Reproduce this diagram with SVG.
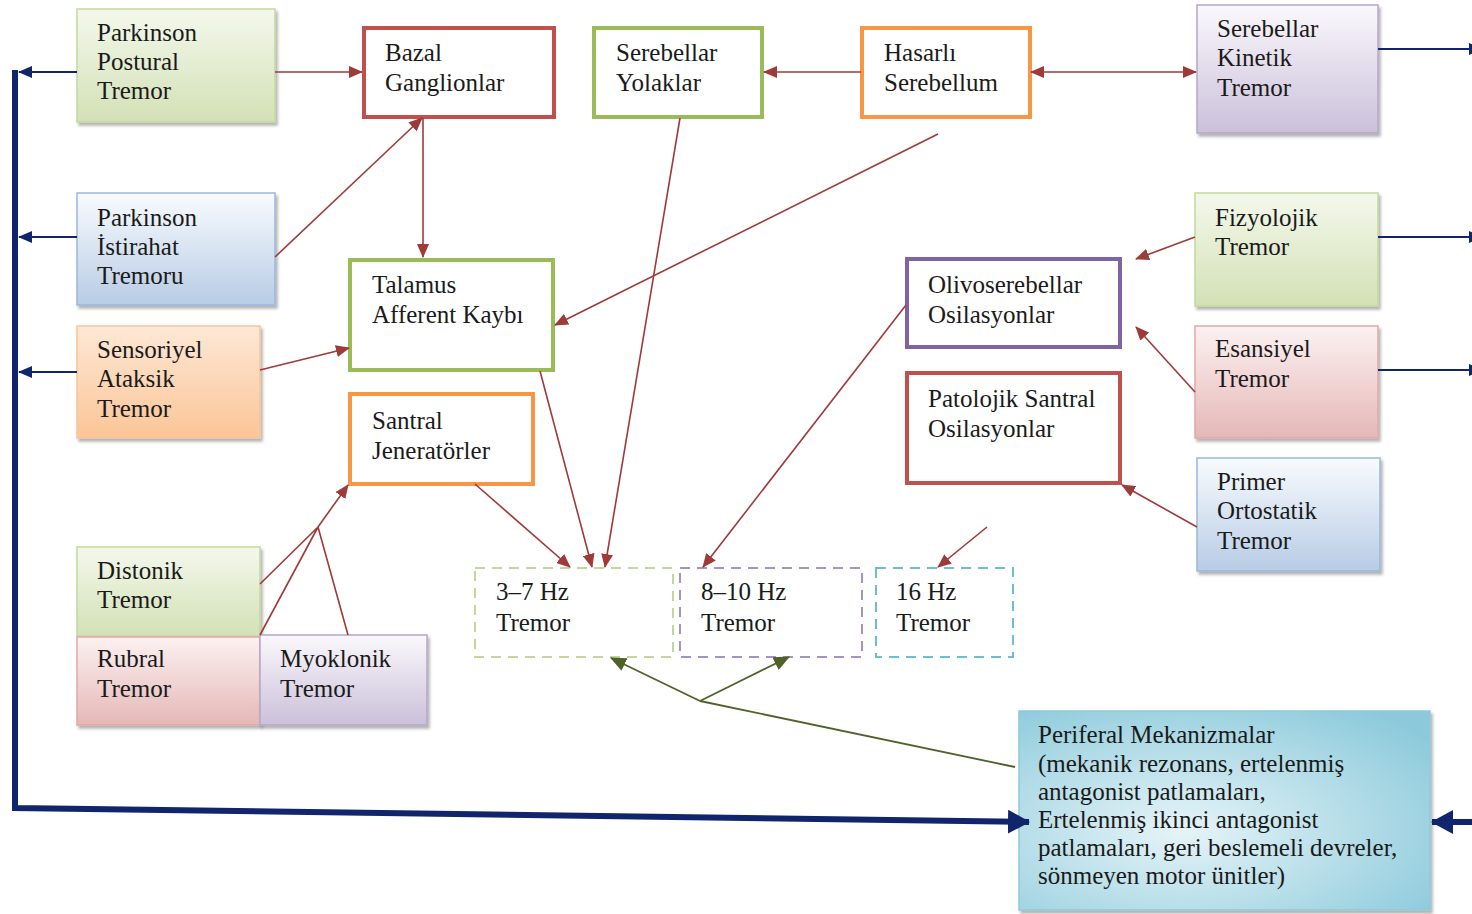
<svg xmlns="http://www.w3.org/2000/svg" width="1472" height="914" viewBox="0 0 1472 914">
<style>
text{font-family:"Liberation Serif","Times New Roman",serif;font-size:25px;fill:#1a1a1a}
.solid{stroke-width:4;fill:#fff}
.grad{stroke-width:1.5;filter:url(#sh)}
.dash{fill:none;stroke-width:2;stroke-dasharray:10 7}
.red{stroke:#9e3a38;stroke-width:1.6;fill:none;marker-end:url(#ra)}
.navy{stroke:#10256b;stroke-width:2;fill:none;marker-end:url(#na)}
.grn{stroke:#4f6228;stroke-width:1.8;fill:none}
</style>
<defs>
<filter id="sh" x="-10%" y="-10%" width="125%" height="130%">
<feDropShadow dx="2" dy="3" stdDeviation="1.5" flood-color="#000" flood-opacity="0.3"/>
</filter>
<linearGradient id="gGreen" x1="0" y1="0" x2="0" y2="1"><stop offset="0" stop-color="#f4f8ec"/><stop offset="1" stop-color="#d3e1b6"/></linearGradient>
<linearGradient id="gBlue" x1="0" y1="0" x2="0" y2="1"><stop offset="0" stop-color="#f8fbfe"/><stop offset="1" stop-color="#b8cce5"/></linearGradient>
<linearGradient id="gOrange" x1="0" y1="0" x2="0" y2="1"><stop offset="0" stop-color="#fde8d6"/><stop offset="1" stop-color="#fbc597"/></linearGradient>
<linearGradient id="gRed" x1="0" y1="0" x2="0" y2="1"><stop offset="0" stop-color="#fcf1f1"/><stop offset="1" stop-color="#e5b8b7"/></linearGradient>
<linearGradient id="gPurple" x1="0" y1="0" x2="0" y2="1"><stop offset="0" stop-color="#faf8fc"/><stop offset="1" stop-color="#cbc0da"/></linearGradient>
<radialGradient id="gTeal" cx="0.4" cy="0.6" r="0.75"><stop offset="0" stop-color="#e6f4f8"/><stop offset="1" stop-color="#8ccadb"/></radialGradient>
<marker id="ra" markerUnits="userSpaceOnUse" markerWidth="14" markerHeight="12" refX="13" refY="6" orient="auto-start-reverse"><path d="M0,0 L14,6 L0,12 z" fill="#9e3a38"/></marker>
<marker id="na" markerUnits="userSpaceOnUse" markerWidth="14" markerHeight="12" refX="13" refY="6" orient="auto"><path d="M0,0 L14,6 L0,12 z" fill="#10256b"/></marker>
<marker id="nb" markerUnits="userSpaceOnUse" markerWidth="22" markerHeight="24" refX="21" refY="12" orient="auto"><path d="M0,0 L22,12 L0,24 z" fill="#10256b"/></marker>
<marker id="ga" markerUnits="userSpaceOnUse" markerWidth="16" markerHeight="14" refX="15" refY="7" orient="auto"><path d="M0,0 L16,7 L0,14 z" fill="#4f6228"/></marker>
</defs>
<rect width="1472" height="914" fill="#fff"/>

<g id="parkinson-postural">
<rect class="grad" x="77" y="9" width="198" height="113" fill="url(#gGreen)" stroke="#c4d79f"/>
<text x="97" y="41">Parkinson</text><text x="97" y="70">Postural</text><text x="97" y="99">Tremor</text>
</g>
<g id="parkinson-istirahat">
<rect class="grad" x="77" y="193" width="198" height="112" fill="url(#gBlue)" stroke="#9ab7da"/>
<text x="97" y="226">Parkinson</text><text x="97" y="255">İstirahat</text><text x="97" y="284">Tremoru</text>
</g>
<g id="sensoriyel">
<rect class="grad" x="77" y="326" width="183" height="112" fill="url(#gOrange)" stroke="#f8c497"/>
<text x="97" y="358">Sensoriyel</text><text x="97" y="387">Ataksik</text><text x="97" y="417">Tremor</text>
</g>
<g id="distonik">
<rect class="grad" x="77" y="547" width="183" height="89" fill="url(#gGreen)" stroke="#c4d79f"/>
<text x="97" y="579">Distonik</text><text x="97" y="608">Tremor</text>
</g>
<g id="rubral">
<rect class="grad" x="77" y="637" width="183" height="88" fill="url(#gRed)" stroke="#e0a9a8"/>
<text x="97" y="667">Rubral</text><text x="97" y="697">Tremor</text>
</g>
<g id="myoklonik">
<rect class="grad" x="260" y="635" width="167" height="90" fill="url(#gPurple)" stroke="#b5a6c9"/>
<text x="280" y="667">Myoklonik</text><text x="280" y="697">Tremor</text>
</g>
<g id="bazal">
<rect class="solid" x="364" y="28" width="190" height="89" stroke="#c0504d"/>
<text x="385" y="61">Bazal</text><text x="385" y="91">Ganglionlar</text>
</g>
<g id="serebellar-yolaklar">
<rect class="solid" x="594" y="28" width="168" height="89" stroke="#9bbb59"/>
<text x="616" y="61">Serebellar</text><text x="616" y="91">Yolaklar</text>
</g>
<g id="hasarli">
<rect class="solid" x="862" y="28" width="168" height="89" stroke="#f79646"/>
<text x="884" y="61">Hasarlı</text><text x="884" y="91">Serebellum</text>
</g>
<g id="serebellar-kinetik">
<rect class="grad" x="1197" y="5" width="181" height="128" fill="url(#gPurple)" stroke="#b5a6c9"/>
<text x="1217" y="37">Serebellar</text><text x="1217" y="66">Kinetik</text><text x="1217" y="96">Tremor</text>
</g>
<g id="talamus">
<rect class="solid" x="350" y="260" width="203" height="110" stroke="#9bbb59"/>
<text x="372" y="293">Talamus</text><text x="372" y="323">Afferent Kaybı</text>
</g>
<g id="santral">
<rect class="solid" x="350" y="394" width="183" height="90" stroke="#f79646"/>
<text x="372" y="429">Santral</text><text x="372" y="459">Jeneratörler</text>
</g>
<g id="fizyolojik">
<rect class="grad" x="1195" y="193" width="183" height="113" fill="url(#gGreen)" stroke="#c4d79f"/>
<text x="1215" y="226">Fizyolojik</text><text x="1215" y="255">Tremor</text>
</g>
<g id="olivoserebellar">
<rect class="solid" x="907" y="259" width="213" height="88" stroke="#8064a2"/>
<text x="928" y="293">Olivoserebellar</text><text x="928" y="323">Osilasyonlar</text>
</g>
<g id="patolojik">
<rect class="solid" x="907" y="373" width="213" height="110" stroke="#c0504d"/>
<text x="928" y="407">Patolojik Santral</text><text x="928" y="437">Osilasyonlar</text>
</g>
<g id="esansiyel">
<rect class="grad" x="1195" y="326" width="183" height="112" fill="url(#gRed)" stroke="#e0a9a8"/>
<text x="1215" y="357">Esansiyel</text><text x="1215" y="387">Tremor</text>
</g>
<g id="primer">
<rect class="grad" x="1197" y="458" width="183" height="113" fill="url(#gBlue)" stroke="#9ab7da"/>
<text x="1217" y="490">Primer</text><text x="1217" y="519">Ortostatik</text><text x="1217" y="549">Tremor</text>
</g>
<g id="hz3-7">
<rect class="dash" x="475" y="568" width="198" height="89" stroke="#c3d69b"/>
<text x="496" y="600">3–7 Hz</text><text x="496" y="631">Tremor</text>
</g>
<g id="hz8-10">
<rect class="dash" x="680" y="568" width="182" height="89" stroke="#a593c2"/>
<text x="701" y="600">8–10 Hz</text><text x="701" y="631">Tremor</text>
</g>
<g id="hz16">
<rect class="dash" x="876" y="568" width="137" height="89" stroke="#6fbdd2"/>
<text x="896" y="600">16 Hz</text><text x="896" y="631">Tremor</text>
</g>
<g id="periferal">
<rect class="grad" x="1019" y="711" width="411" height="199" fill="url(#gTeal)" stroke="#8ccadb"/>
<text x="1038" y="743">Periferal Mekanizmalar</text>
<text x="1038" y="772">(mekanik rezonans, ertelenmiş</text>
<text x="1038" y="800">antagonist patlamaları,</text>
<text x="1038" y="828">Ertelenmiş ikinci antagonist</text>
<text x="1038" y="856">patlamaları, geri beslemeli devreler,</text>
<text x="1038" y="884">sönmeyen motor ünitler)</text>
</g>

<g id="connectors">
<path d="M15,70 L15,808 L1029,822" stroke="#10256b" stroke-width="6" fill="none" marker-end="url(#nb)"/>
<path d="M1474,822 L1432,822" stroke="#10256b" stroke-width="6" fill="none" marker-end="url(#nb)"/>
<path class="navy" d="M77,72 L19,72"/>
<path class="navy" d="M77,237 L19,237"/>
<path class="navy" d="M77,372 L19,372"/>
<path class="navy" d="M1378,49 L1482,49"/>
<path class="navy" d="M1378,237 L1482,237"/>
<path class="navy" d="M1378,370 L1482,370"/>
<path class="red" d="M275,72 L362,72"/>
<path class="red" d="M275,257 L422,118"/>
<path class="red" d="M423,118 L423,257"/>
<path class="red" d="M861,72 L764,72"/>
<path class="red" d="M1031,72 L1196,72" marker-start="url(#ra)"/>
<path class="red" d="M938,134 L555,325"/>
<path class="red" d="M680,118 L605,567"/>
<path class="red" d="M540,371 L592,567"/>
<path class="red" d="M260,370 L349,348"/>
<path class="red" d="M475,484 L570,567"/>
<path class="red" d="M906,305 L703,567"/>
<path class="red" d="M1195,237 L1136,259"/>
<path class="red" d="M1195,392 L1136,327"/>
<path class="red" d="M1197,527 L1122,485"/>
<path class="red" d="M987,527 L938,567"/>
<path stroke="#9e3a38" stroke-width="1.6" fill="none" d="M260,584 L318,527 M260,635 L318,527 M348,635 L318,527"/>
<path class="red" d="M318,527 L348,485"/>
<path class="grn" d="M1015,767 L700,701"/>
<path class="grn" d="M700,701 L611,658" marker-end="url(#ga)"/>
<path class="grn" d="M700,701 L789,657" marker-end="url(#ga)"/>
</g>
</svg>
